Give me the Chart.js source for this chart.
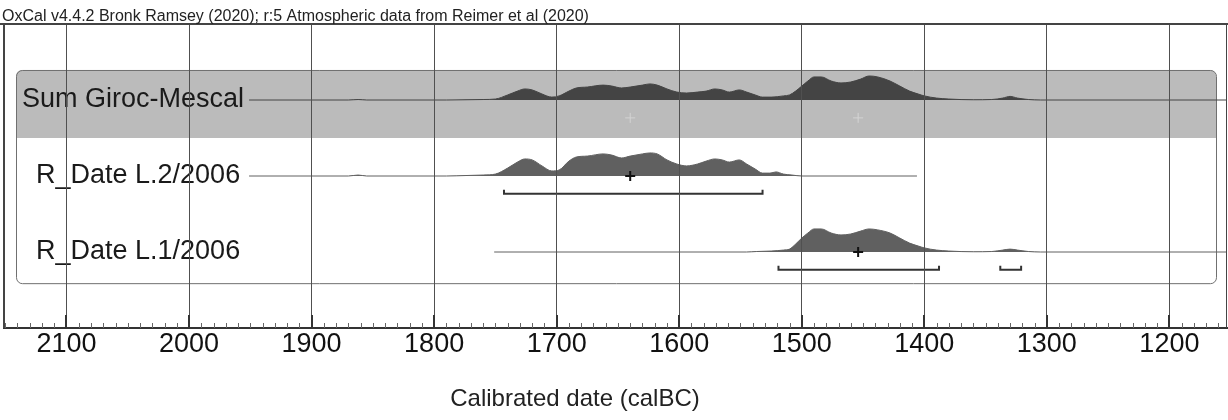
<!DOCTYPE html>
<html>
<head>
<meta charset="utf-8">
<script src="https://cdn.jsdelivr.net/npm/chart.js@4.4.1/dist/chart.umd.min.js"></script>
<style>
  html, body { margin: 0; padding: 0; background: #fff; }
  #wrap { position: relative; width: 1228px; height: 420px; }
</style>
</head>
<body>
<div id="wrap"><canvas id="oxcalChart"></canvas></div>
<script>
// Header and axis text
const headerText = 'OxCal v4.4.2 Bronk Ramsey (2020); r:5 Atmospheric data from Reimer et al (2020)';
const axisTitle = 'Calibrated date (calBC)';
const rowLabels = ['Sum Giroc-Mescal', 'R_Date L.2/2006', 'R_Date L.1/2006'];
const tickLabels = [2100, 2000, 1900, 1800, 1700, 1600, 1500, 1400, 1300, 1200];

// Sum Giroc-Mescal (relative probability, peak = 1)
const sumYears = [1951, 1870, 1862, 1855, 1790, 1774, 1760, 1750, 1740, 1732, 1726, 1720, 1712, 1704, 1698,
  1690, 1684, 1675, 1662, 1655, 1647, 1640, 1630, 1624, 1618, 1610, 1602, 1594, 1585, 1578, 1571, 1565,
  1559, 1551, 1545, 1538, 1532, 1525, 1515, 1510, 1505, 1500, 1495, 1490, 1484, 1476, 1468, 1460, 1452,
  1445, 1438, 1428, 1420, 1412, 1405, 1400, 1390, 1380, 1360, 1345, 1336, 1330, 1324, 1315, 1305, 1150];
const sumDensity = [0, 0, 0.02, 0, 0, 0.01, 0.02, 0.04, 0.21, 0.37, 0.46, 0.42, 0.25, 0.12, 0.17,
  0.37, 0.5, 0.54, 0.62, 0.58, 0.5, 0.54, 0.62, 0.67, 0.62, 0.46, 0.33, 0.29, 0.33, 0.37, 0.46, 0.42,
  0.33, 0.42, 0.33, 0.21, 0.12, 0.12, 0.17, 0.21, 0.37, 0.58, 0.79, 0.96, 0.96, 0.79, 0.71, 0.75, 0.87,
  1.0, 0.96, 0.79, 0.58, 0.37, 0.25, 0.17, 0.08, 0.04, 0.01, 0.02, 0.08, 0.15, 0.08, 0.02, 0, 0];

// R_Date L.2/2006
const l2Years = [1951, 1870, 1862, 1855, 1790, 1774, 1760, 1750, 1740, 1732, 1726, 1720, 1712, 1704, 1698,
  1690, 1684, 1675, 1662, 1655, 1647, 1640, 1630, 1624, 1618, 1610, 1602, 1594, 1585, 1578, 1571, 1565,
  1559, 1551, 1545, 1538, 1532, 1526, 1521, 1515, 1508, 1500, 1406];
const l2Density = [0, 0, 0.04, 0, 0, 0.02, 0.04, 0.08, 0.33, 0.58, 0.71, 0.67, 0.42, 0.21, 0.25,
  0.62, 0.79, 0.83, 0.92, 0.87, 0.75, 0.83, 0.92, 0.96, 0.92, 0.67, 0.5, 0.42, 0.5, 0.62, 0.71, 0.67,
  0.58, 0.67, 0.5, 0.29, 0.12, 0.12, 0.17, 0.08, 0.04, 0, 0];
const l2Range = [[1743, 1532]];
const l2Mean = 1640;

// R_Date L.1/2006
const l1Years = [1751, 1545, 1537, 1525, 1515, 1510, 1505, 1500, 1495, 1490, 1484, 1476, 1468, 1460, 1452,
  1445, 1438, 1428, 1420, 1412, 1405, 1400, 1390, 1380, 1360, 1345, 1336, 1330, 1324, 1315, 1305, 1150];
const l1Density = [0, 0, 0.02, 0.04, 0.08, 0.12, 0.33, 0.58, 0.79, 0.96, 0.96, 0.79, 0.71, 0.75, 0.87,
  0.96, 0.92, 0.79, 0.58, 0.37, 0.25, 0.17, 0.08, 0.04, 0.01, 0.02, 0.08, 0.12, 0.08, 0.02, 0, 0];
const l1Range = [[1519, 1388], [1338, 1321]];
const l1Mean = 1454;

const FONT = '"Liberation Sans", Arial, sans-serif';
const AMP = 0.316;          // height of a peak in row units
const ROW = [3, 2, 1];      // baseline of each row on the y scale

function distData(years, dens, base) {
    return years.map((yr, i) => ({ x: yr, y: base + dens[i] * AMP }));
}

function bracketData(range, base) {
    const y1 = base - 0.18, y2 = base - 0.235;
    return [{ x: range[0], y: y1 }, { x: range[0], y: y2 }, { x: range[1], y: y2 }, { x: range[1], y: y1 }];
}

function distDataset(years, dens, base, color) {
    return {
        data: distData(years, dens, base),
        borderColor: color,
        backgroundColor: color,
        borderWidth: 1,
        pointRadius: 0,
        cubicInterpolationMode: 'monotone',
        fill: { value: base },
        order: 2
    };
}

function bracketDataset(range, base) {
    return {
        data: bracketData(range, base),
        borderColor: '#333',
        borderWidth: 2,
        pointRadius: 0,
        fill: false,
        order: 1
    };
}

const datasets = [
    distDataset(sumYears, sumDensity, ROW[0], '#444444'),
    distDataset(l2Years, l2Density, ROW[1], '#606060'),
    distDataset(l1Years, l1Density, ROW[2], '#606060'),
    ...l2Range.map(r => bracketDataset(r, ROW[1])),
    ...l1Range.map(r => bracketDataset(r, ROW[2])),
    {
        data: [{ x: l2Mean, y: ROW[1] }, { x: l1Mean, y: ROW[2] }],
        showLine: false,
        pointStyle: 'cross',
        pointRadius: 5,
        pointBorderWidth: 2,
        pointBorderColor: '#111',
        order: 0
    },
    {
        data: [{ x: l2Mean, y: ROW[0] - 0.235 }, { x: l1Mean, y: ROW[0] - 0.235 }],
        showLine: false,
        pointStyle: 'cross',
        pointRadius: 5,
        pointBorderWidth: 1,
        pointBorderColor: '#d4d4d4',
        order: 0
    }
];

function roundRect(ctx, x, y, w, h, r) {
    ctx.beginPath();
    ctx.moveTo(x + r, y);
    ctx.lineTo(x + w - r, y);
    ctx.arcTo(x + w, y, x + w, y + r, r);
    ctx.lineTo(x + w, y + h - r);
    ctx.arcTo(x + w, y + h, x + w - r, y + h, r);
    ctx.lineTo(x + r, y + h);
    ctx.arcTo(x, y + h, x, y + h - r, r);
    ctx.lineTo(x, y + r);
    ctx.arcTo(x, y, x + r, y, r);
    ctx.closePath();
}

// boxes, labels, frame and inside ticks in the OxCal style
const oxcalPlugin = {
    id: 'oxcal',
    beforeDatasetsDraw(chart) {
        const { ctx, chartArea: a, scales: { y } } = chart;
        const x1 = a.left + 12, x2 = a.right - 11;
        const top = y.getPixelForValue(ROW[0] + 0.395);
        const bandBottom = y.getPixelForValue(ROW[0] - 0.5);
        const bottom = y.getPixelForValue(ROW[2] - 0.41);
        ctx.save();
        // grey band behind the sum
        ctx.save();
        roundRect(ctx, x1, top, x2 - x1, bottom - top, 6);
        ctx.clip();
        ctx.fillStyle = '#bbbbbb';
        ctx.fillRect(x1, top, x2 - x1, bandBottom - top);
        ctx.restore();
        roundRect(ctx, x1 + 0.5, top + 0.5, x2 - x1, bottom - top, 6);
        ctx.strokeStyle = '#707070';
        ctx.lineWidth = 1;
        ctx.stroke();
        // row labels
        ctx.fillStyle = '#1a1a1a';
        ctx.font = '27px ' + FONT;
        ctx.textBaseline = 'middle';
        ctx.textAlign = 'left';
        rowLabels.forEach((lab, i) => {
            ctx.fillText(lab, i === 0 ? a.left + 18 : a.left + 32, y.getPixelForValue(ROW[i]));
        });
        ctx.restore();
    },
    afterDraw(chart) {
        const { ctx, chartArea: a, scales: { x } } = chart;
        ctx.save();
        // frame
        ctx.strokeStyle = '#444';
        ctx.lineWidth = 2;
        ctx.beginPath();
        ctx.moveTo(0, a.top);
        ctx.lineTo(a.right + 1, a.top);
        ctx.moveTo(a.left, a.top);
        ctx.lineTo(a.left, a.bottom);
        ctx.stroke();
        ctx.lineWidth = 1;
        ctx.beginPath();
        ctx.moveTo(a.right - 0.5, a.top);
        ctx.lineTo(a.right - 0.5, a.bottom);
        ctx.stroke();
        // inside ticks
        x.ticks.forEach(t => {
            const px = Math.round(x.getPixelForValue(t.value));
            const major = tickLabels.includes(t.value);
            ctx.lineWidth = major ? 2 : 1;
            ctx.strokeStyle = major ? '#333' : '#666';
            ctx.beginPath();
            ctx.moveTo(major ? px : px + 0.5, a.bottom);
            ctx.lineTo(major ? px : px + 0.5, a.bottom - (major ? 13 : 5));
            ctx.stroke();
        });
        // header and axis title
        ctx.fillStyle = '#222';
        ctx.font = '16px ' + FONT;
        ctx.textAlign = 'left';
        ctx.textBaseline = 'alphabetic';
        ctx.fillText(headerText, 2, a.top - 3);
        ctx.font = '24px ' + FONT;
        ctx.textAlign = 'center';
        ctx.textBaseline = 'middle';
        ctx.fillText(axisTitle, 575, 399);
        ctx.restore();
    }
};

const chart = new Chart(document.getElementById('oxcalChart'), {
    type: 'line',
    data: { datasets: datasets },
    options: {
        responsive: true,
        maintainAspectRatio: false,
        animation: false,
        devicePixelRatio: 1,
        layout: { autoPadding: false, padding: { top: 24, left: 4, right: 1, bottom: 0 } },
        plugins: {
            legend: { display: false },
            tooltip: { enabled: false }
        },
        scales: {
            x: {
                type: 'linear',
                reverse: true,
                min: 1153,
                max: 2151,
                afterBuildTicks: function(scale) {
                    const ticks = [];
                    for (let v = 1160; v <= 2150; v += 10) ticks.push({ value: v });
                    scale.ticks = ticks;
                },
                afterFit: function(scale) {
                    scale.height = 92;
                    scale.paddingLeft = 0;
                    scale.paddingRight = 0;
                },
                grid: {
                    z: 1,
                    drawTicks: false,
                    color: ctx => (ctx.tick && tickLabels.includes(ctx.tick.value)) ? '#505050' : 'rgba(0,0,0,0)',
                    lineWidth: 1
                },
                border: { display: true, color: '#333', width: 2, z: 1 },
                ticks: {
                    autoSkip: false,
                    maxRotation: 0,
                    padding: 0,
                    color: '#111',
                    font: { family: FONT, size: 27 },
                    callback: value => tickLabels.includes(value) ? String(value) : ''
                }
            },
            y: {
                type: 'linear',
                display: false,
                min: 0,
                max: 4
            }
        }
    },
    plugins: [oxcalPlugin]
});
</script>
</body>
</html>
